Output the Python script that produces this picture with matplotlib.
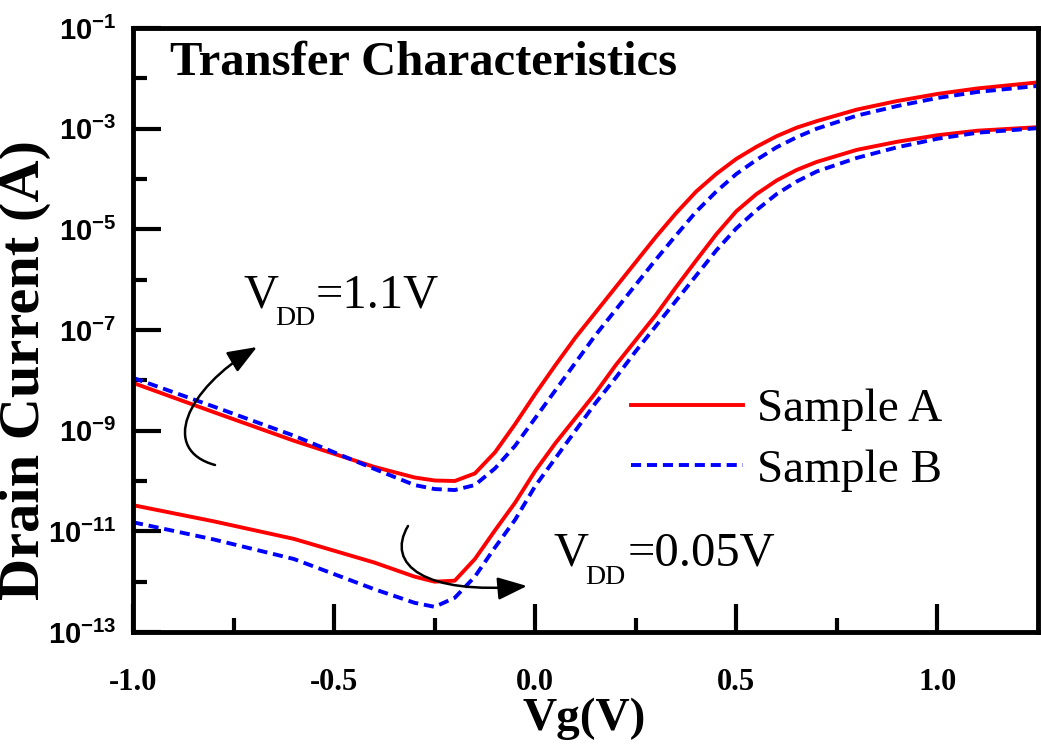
import numpy as np
import matplotlib
matplotlib.use("Agg")
import matplotlib.pyplot as plt
from matplotlib.patches import FancyArrowPatch
from matplotlib.path import Path

plt.rcParams['font.family'] = 'serif'
plt.rcParams['font.serif'] = ['Liberation Serif', 'DejaVu Serif']

# gate voltage grid (V)
vg = [-1.0, -0.8, -0.6, -0.4, -0.3, -0.25, -0.2, -0.15, -0.1, -0.05,
      0.0, 0.05, 0.1, 0.15, 0.2, 0.25, 0.3, 0.35, 0.4, 0.45,
      0.5, 0.55, 0.6, 0.65, 0.7, 0.8, 0.9, 1.0, 1.1, 1.25]

# log10 of drain current (A)
logI_a_hi = [-8.05, -8.63, -9.20, -9.72, -9.93, -9.99, -10.00, -9.85, -9.43, -8.87,
             -8.27, -7.70, -7.15, -6.65, -6.15, -5.65, -5.15, -4.68, -4.25, -3.90,
             -3.60, -3.36, -3.15, -2.98, -2.85, -2.62, -2.45, -2.31, -2.20, -2.08]
logI_b_hi = [-7.95, -8.52, -9.10, -9.76, -10.08, -10.16, -10.18, -10.08, -9.75, -9.30,
             -8.75, -8.20, -7.65, -7.10, -6.60, -6.10, -5.60, -5.12, -4.65, -4.25,
             -3.90, -3.62, -3.37, -3.17, -3.00, -2.74, -2.55, -2.39, -2.27, -2.15]
logI_a_lo = [-10.48, -10.80, -11.15, -11.62, -11.90, -12.00, -11.98, -11.55, -10.98, -10.43,
             -9.80, -9.25, -8.75, -8.25, -7.70, -7.20, -6.70, -6.15, -5.62, -5.10,
             -4.64, -4.30, -4.03, -3.82, -3.66, -3.42, -3.26, -3.13, -3.04, -2.97]
logI_b_lo = [-10.82, -11.16, -11.55, -12.15, -12.42, -12.50, -12.32, -11.90, -11.32, -10.77,
             -10.10, -9.55, -9.00, -8.45, -7.95, -7.42, -6.92, -6.42, -5.92, -5.42,
             -4.98, -4.62, -4.30, -4.05, -3.85, -3.58, -3.37, -3.20, -3.08, -2.99]

x_major = [-1.0, -0.5, 0.0, 0.5, 1.0]
x_minor = [-0.75, -0.25, 0.25, 0.75]
x_labels = ['-1.0', '-0.5', '0.0', '0.5', '1.0']
y_exp_major = [-1, -3, -5, -7, -9, -11, -13]
y_exp_minor = [-2, -4, -6, -8, -10, -12]

W, H = 1041, 744
fig = plt.figure(figsize=(W / 100, H / 100), dpi=100)


def px(x, y):
    # pixel position -> figure fraction
    return (x / W, 1 - y / H)


ax = fig.add_axes([133 / W, 1 - 632 / H, (1038 - 133) / W, (632 - 28) / H])

red = '#ff0000'
blue = '#0000ff'
dash = (0, (2.6, 1.5))
ax.plot(vg, 10 ** np.array(logI_a_hi), color=red, lw=2.8, label='Sample A')
ax.plot(vg, 10 ** np.array(logI_b_hi), color=blue, lw=2.8, ls=dash, label='Sample B')
ax.plot(vg, 10 ** np.array(logI_a_lo), color=red, lw=2.8)
ax.plot(vg, 10 ** np.array(logI_b_lo), color=blue, lw=2.8, ls=dash)

ax.set_yscale('log')
ax.set_xlim(-1.0, 1.25)
ax.set_ylim(1e-13, 1e-1)

ax.tick_params(which='both', direction='in', top=False, right=False, width=3)
ax.tick_params(which='major', length=20)
ax.tick_params(which='minor', length=10)
ax.tick_params(axis='x', which='major', pad=26)
ax.tick_params(axis='y', which='major', pad=12)
for s in ax.spines.values():
    s.set_linewidth(3.5)

ax.set_xticks(x_major)
ax.set_xticks(x_minor, minor=True)
ax.set_xticklabels(x_labels, fontsize=22, fontweight='bold')
ax.set_yticks([10.0 ** e for e in y_exp_major])
ax.set_yticks([10.0 ** e for e in y_exp_minor], minor=True)
ax.set_yticklabels([r'$\mathregular{10^{%d}}$' % e for e in y_exp_major])
ax.yaxis.set_minor_formatter(plt.NullFormatter())
for lbl in ax.get_yticklabels():
    lbl.set_fontfamily('Liberation Sans')
    lbl.set_fontweight('bold')
    lbl.set_fontsize(21)

ax.text(0.041, 0.922, 'Transfer Characteristics', transform=ax.transAxes,
        fontsize=35, fontweight='bold', va='baseline', ha='left')

# V_DD labels, built from pieces so the subscript sits low like the original
for (xv, xs, xe, yb, ys, rest) in [(243, 275, 316, 307, 325, '=1.1V'),
                                   (553, 585, 628, 566, 584, '=0.05V')]:
    fig.text(*px(xv, yb), 'V', fontsize=35, va='baseline', ha='left')
    fig.text(*px(xs, ys), 'DD', fontsize=20, va='baseline', ha='left')
    fig.text(*px(xe, yb), rest, fontsize=35, va='baseline', ha='left')

fig.text(*px(584, 730), 'Vg(V)', fontsize=34, fontweight='bold', ha='center', va='baseline')
fig.text(*px(25, 370), 'Drain Current (A)', fontsize=42, fontweight='bold',
         rotation=90, ha='center', va='center')

leg = ax.legend(loc='center left', bbox_to_anchor=(0.550, 0.318), frameon=False,
                fontsize=34, handlelength=2.37, handletextpad=0.3, labelspacing=0.37,
                borderpad=0, borderaxespad=0)

# curved arrows marking the two drain biases
codes = [Path.MOVETO, Path.CURVE4, Path.CURVE4, Path.CURVE4]
arrow_hi = [px(215, 465), px(160, 450), px(185, 390), px(257, 347)]
arrow_lo = [px(408, 526), px(385, 565), px(425, 595), px(527, 586)]
for verts in (arrow_hi, arrow_lo):
    arr = FancyArrowPatch(path=Path(verts, codes), transform=fig.transFigure,
                          arrowstyle='-|>,head_length=0.9,head_width=0.35',
                          mutation_scale=20, lw=1.8, color='black')
    fig.add_artist(arr)

fig.savefig('out.png', dpi=100)
